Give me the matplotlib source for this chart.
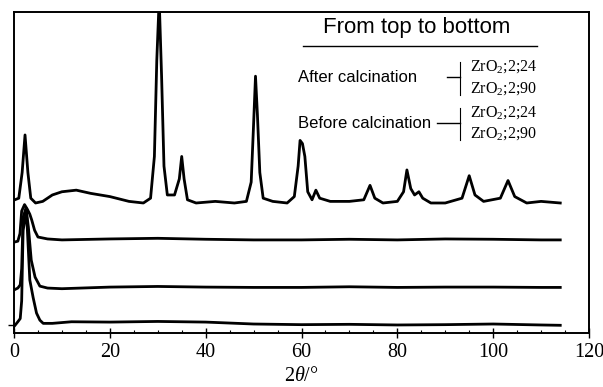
import matplotlib

matplotlib.use("Agg")
import matplotlib.lines
import matplotlib.pyplot as plt
import numpy as np

# top to bottom: after calcination (24, 90), before calcination (24, 90)
after_24_x = [0, 1.0, 1.7, 2.3, 2.9, 3.5, 4.5, 6, 8, 10, 13, 16, 20, 24, 27,
              28.5, 29.3, 29.8, 30.3, 30.8, 31.3, 32, 33.5, 34.5, 35.0, 35.5,
              36.2, 38, 42, 46, 48.5, 49.5, 50.0, 50.4, 50.8, 51.3, 52, 54, 57,
              58.5, 59.3, 59.7, 60.2, 60.7, 61.3, 62.2, 63.0, 63.8, 66, 70, 73,
              74.3, 75.3, 77, 80, 81.3, 82.0, 82.8, 83.6, 84.5, 85.3, 87, 90,
              93.5, 95.0, 96.2, 98, 101.5, 103.1, 104.5, 107, 110, 114]
after_24_y = [41.4, 42, 50, 61.7, 50, 42, 40.5, 41, 43, 44, 44.5, 43.5, 42.5,
              41, 40.5, 42, 55, 85, 104, 80, 52, 43, 43, 48, 55, 48, 41.5, 40.5,
              41, 40.5, 41, 47, 65, 80, 68, 50, 42, 41, 40.5, 42.5, 52, 60, 59,
              55, 44, 41.5, 44.5, 42, 41, 41, 41.5, 46, 42, 40.5, 41, 44, 50.8,
              45, 43, 44, 42, 40.5, 40.5, 42, 49, 43, 41, 42, 47.5, 42.5, 40.5,
              41, 40.5]

after_90_x = [0, 0.8, 1.25, 1.6, 2.2, 2.8, 3.3, 3.7, 4.3, 5.0, 7, 10, 20, 30,
              40, 50, 60, 70, 80, 90, 100, 110, 114]
after_90_y = [28.3, 28.6, 31, 38, 40, 38.5, 37, 35.2, 32, 29.9, 29.3, 29.0,
              29.3, 29.5, 29.2, 29.0, 29.0, 29.2, 29.0, 29.3, 29.2, 29.0, 29.0]

before_24_x = [0, 0.8, 1.3, 1.6, 1.9, 2.5, 3.0, 3.6, 4.4, 5.4, 7, 10, 20, 30,
               40, 50, 60, 70, 80, 90, 100, 110, 114]
before_24_y = [13.4, 14.0, 15.0, 20, 36, 39, 33, 22.7, 17.4, 14.6, 14.0, 13.8,
               14.3, 14.5, 14.3, 14.2, 14.2, 14.4, 14.2, 14.3, 14.3, 14.2, 14.2]

before_90_x = [0, 0.8, 1.3, 1.6, 1.9, 2.6, 3.3, 4.0, 4.7, 5.4, 6.1, 8, 12, 20,
               30, 40, 50, 60, 70, 80, 90, 100, 110, 114]
before_90_y = [2.0, 3.5, 4.5, 10, 32, 38, 16.5, 11, 6.2, 4.0, 3.0, 3.0, 3.5,
               3.4, 3.6, 3.4, 2.8, 2.6, 2.7, 2.5, 2.6, 2.8, 2.5, 2.4]

x_ticks = [0, 20, 40, 60, 80, 100, 120]
legend_title = "From top to bottom"
group_labels = ["After calcination", "Before calcination"]
sample_labels = ["ZrO$_2$;2;24", "ZrO$_2$;2;90"]

W, H = 603, 387


def fx(px):
    return px / W


def fy(py):
    return 1 - py / H


def main():
    plt.rcParams["mathtext.fontset"] = "custom"
    plt.rcParams["mathtext.rm"] = "Liberation Serif"
    plt.rcParams["mathtext.it"] = "Liberation Serif:italic"

    fig = plt.figure(figsize=(W / 100, H / 100), dpi=100)
    ax = fig.add_axes([fx(14), fy(333), fx(589) - fx(14), fy(12) - fy(333)])

    for xs, ys in [(after_24_x, after_24_y), (after_90_x, after_90_y),
                   (before_24_x, before_24_y), (before_90_x, before_90_y)]:
        ax.plot(xs, ys, color="black", lw=2)

    ax.set_xlim(0, 120)
    ax.set_ylim(0, 100)
    ax.set_xticks(x_ticks)
    ax.set_xticks(np.arange(0, 121, 5), minor=True)
    ax.set_xticklabels([str(t) for t in x_ticks], family="Liberation Serif",
                       fontsize=14.5)
    ax.tick_params(axis="x", which="major", direction="inout", length=7,
                   width=1, pad=4)
    ax.tick_params(axis="x", which="minor", direction="in", length=2.5,
                   width=0.8)
    ax.set_yticks([2.5])
    ax.set_yticklabels([""])
    ax.tick_params(axis="y", direction="out", length=4, width=1)
    for sp in ax.spines.values():
        sp.set_linewidth(1.4)
    ax.set_xlabel("2$\\mathit{\\theta}$/°", family="Liberation Serif",
                  fontsize=14.5, labelpad=3)

    # legend block
    sans = "Liberation Sans"
    fig.text(fx(417), fy(27), legend_title, family=sans, fontsize=16,
             ha="center", va="center")
    fig.add_artist(matplotlib.lines.Line2D([fx(303), fx(537)], [fy(46), fy(46)],
                                           color="black", lw=1))
    for i, (ty, top, bot) in enumerate([(77, 62, 95), (123, 108, 140)]):
        fig.text(fx(298), fy(ty), group_labels[i], family=sans, fontsize=12,
                 ha="left", va="center")
        fig.add_artist(matplotlib.lines.Line2D(
            [fx(447 if i == 0 else 437), fx(460)], [fy(ty), fy(ty)],
            color="black", lw=1))
        fig.add_artist(matplotlib.lines.Line2D(
            [fx(460), fx(460)], [fy(top), fy(bot)], color="black", lw=0.8))
        for j, ly in enumerate([top + 5, bot - 6]):
            fig.text(fx(470), fy(ly), sample_labels[j], family="Liberation Serif",
                     fontsize=11.5, ha="left", va="center")

    fig.savefig("out.png", dpi=100)


if __name__ == "__main__":
    main()
